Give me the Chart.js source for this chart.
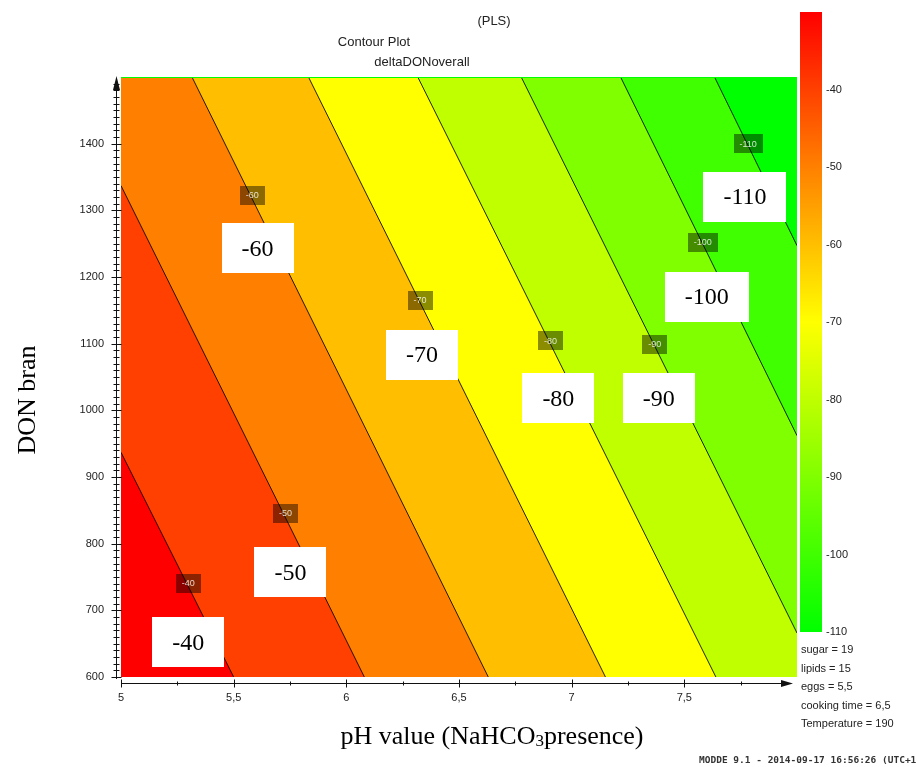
<!DOCTYPE html>
<html>
<head>
<meta charset="utf-8">
<script src="https://cdn.jsdelivr.net/npm/chart.js@4.4.0/dist/chart.umd.min.js"></script>
<style>
  html, body { margin: 0; padding: 0; background: #fff; }
  #wrap { position: relative; width: 917px; height: 767px; overflow: hidden; }
  #plot { position: absolute; left: 0; top: 0; }
  #scale { position: absolute; left: 790px; top: 0; }
</style>
</head>
<body>
<div id="wrap">
  <canvas id="plot" width="917" height="767"></canvas>
  <canvas id="scale" width="127" height="660"></canvas>
</div>
<script>
// contour levels of deltaDONoverall, left (high) to right (low)
const levels = [-40, -50, -60, -70, -80, -90, -100, -110];
// where each contour line enters and leaves the plot (pH, DON bran)
const lineStartX = [5, 5, 5.315, 5.832, 6.317, 6.776, 7.217, 7.634];
const lineStartY = [937, 1337, 1500, 1500, 1500, 1500, 1500, 1500];
const lineEndX = [5.50, 6.08, 6.63, 7.15, 7.64, 8, 8, 8];
const lineEndY = [600, 600, 600, 600, 600, 666, 962, 1247];

// small dark tags sitting on the lines, and the big white labels
const tagX = [5.298, 5.730, 5.583, 6.327, 6.906, 7.369, 7.582, 7.783];
const tagY = [741, 846, 1323, 1165, 1104, 1099, 1252, 1400];
const boxX = [5.298, 5.752, 5.606, 6.336, 6.941, 7.386, 7.600, 7.769];
const boxY = [652, 757, 1243, 1083, 1018, 1018, 1170, 1320];

const xTicks = [5, 5.5, 6, 6.5, 7, 7.5];
const yTicks = [600, 700, 800, 900, 1000, 1100, 1200, 1300, 1400];
const xRange = [5, 8];
const yRange = [600, 1500];

// colour scale
const scaleLevels = [-30, -40, -50, -60, -70, -80, -90, -100, -110];
const scaleTicks = [-40, -50, -60, -70, -80, -90, -100, -110];
const scaleColors = ['#ff0000', '#ff4000', '#ff8000', '#ffbf00', '#ffff00', '#bfff00', '#80ff00', '#40ff00', '#00ff00'];

const factors = ['sugar = 19', 'lipids = 15', 'eggs = 5,5', 'cooking time = 6,5', 'Temperature = 190'];

const sans = "'Liberation Sans', Arial, sans-serif";
const serif = "'Liberation Serif', 'Times New Roman', serif";
const textColor = '#222';

Chart.defaults.font.family = sans;
Chart.defaults.color = textColor;

function comma(v) {
  return String(v).replace('.', ',');
}

// band below the last contour
const plotBackground = {
  id: 'plotBackground',
  beforeDatasetsDraw(chart) {
    const {ctx, chartArea: a} = chart;
    ctx.save();
    ctx.fillStyle = scaleColors[scaleColors.length - 1];
    ctx.fillRect(a.left, a.top, a.right - a.left, a.bottom - a.top);
    ctx.restore();
  }
};

// MODDE style axes: offset lines with arrows and minor ticks
const axisDecor = {
  id: 'axisDecor',
  afterDraw(chart) {
    const {ctx, chartArea: a, scales: {x, y}} = chart;
    const ax = a.left - 4.5, ay = a.bottom + 6.5;
    ctx.save();
    ctx.strokeStyle = '#111';
    ctx.fillStyle = '#111';
    ctx.lineWidth = 1;
    ctx.beginPath();
    ctx.moveTo(ax, a.bottom + 2);
    ctx.lineTo(ax, a.top + 10);
    for (let v = yRange[0]; v < yRange[1] - 5; v += 10) {
      const py = Math.round(y.getPixelForValue(v)) + 0.5;
      const major = v % 100 === 0;
      ctx.moveTo(ax - (major ? 5 : 3), py);
      ctx.lineTo(ax + (major ? 5 : 3), py);
    }
    ctx.moveTo(a.left, ay);
    ctx.lineTo(a.right - 14, ay);
    for (let v = xRange[0]; v < xRange[1] - 0.1; v += 0.25) {
      const px = Math.round(x.getPixelForValue(v)) + 0.5;
      const major = Math.abs(v * 2 - Math.round(v * 2)) < 1e-6;
      ctx.moveTo(px, ay - (major ? 4 : 2));
      ctx.lineTo(px, ay + (major ? 4 : 2));
    }
    ctx.stroke();
    // arrow heads
    ctx.beginPath();
    ctx.moveTo(ax, a.top - 1);
    ctx.lineTo(ax - 3.5, a.top + 13);
    ctx.lineTo(ax + 3.5, a.top + 13);
    ctx.closePath();
    ctx.moveTo(a.right - 4, ay);
    ctx.lineTo(a.right - 16, ay - 3.5);
    ctx.lineTo(a.right - 16, ay + 3.5);
    ctx.closePath();
    ctx.fill();
    ctx.restore();
  }
};

// contour value tags
const contourTags = {
  id: 'contourTags',
  afterDatasetsDraw(chart) {
    const {ctx, scales: {x, y}} = chart;
    ctx.save();
    ctx.textAlign = 'center';
    ctx.textBaseline = 'middle';
    levels.forEach((lv, i) => {
      const label = String(lv);
      let px = x.getPixelForValue(tagX[i]), py = y.getPixelForValue(tagY[i]);
      ctx.font = '9px ' + sans;
      let w = Math.round(ctx.measureText(label).width + 12), h = 19;
      ctx.fillStyle = 'rgba(0,0,0,0.45)';
      ctx.fillRect(Math.round(px - w / 2), Math.round(py - h / 2), w, h);
      ctx.fillStyle = 'rgba(255,255,255,0.8)';
      ctx.fillText(label, px, py + 0.5);

      px = x.getPixelForValue(boxX[i]);
      py = y.getPixelForValue(boxY[i]);
      ctx.font = '24px ' + serif;
      w = Math.round(ctx.measureText(label).width + 40);
      h = 50;
      ctx.fillStyle = '#fff';
      ctx.fillRect(Math.round(px - w / 2), Math.round(py - h / 2), w, h);
      ctx.fillStyle = '#000';
      ctx.fillText(label, px, py + 1);
    });
    ctx.restore();
  }
};

// titles, axis names, factor settings and footer
const pageText = {
  id: 'pageText',
  afterDraw(chart) {
    const {ctx} = chart;
    ctx.save();
    ctx.fillStyle = textColor;
    ctx.textBaseline = 'middle';
    ctx.textAlign = 'center';
    ctx.font = '13px ' + sans;
    ctx.fillText('(PLS)', 494, 21);
    ctx.fillText('Contour Plot', 374, 42);
    ctx.fillText('deltaDONoverall', 422, 62);

    ctx.fillStyle = '#000';
    ctx.font = '26px ' + serif;
    ctx.save();
    ctx.translate(28, 400);
    ctx.rotate(-Math.PI / 2);
    ctx.fillText('DON bran', 0, 0);
    ctx.restore();

    // pH value (NaHCO3presence) with a subscript 3
    const parts = [['pH value (NaHCO', 26, 0], ['3', 17, 5], ['presence)', 26, 0]];
    let total = 0;
    parts.forEach(p => { ctx.font = p[1] + 'px ' + serif; total += ctx.measureText(p[0]).width; });
    let cx = 492 - total / 2;
    ctx.textAlign = 'left';
    parts.forEach(p => {
      ctx.font = p[1] + 'px ' + serif;
      ctx.fillText(p[0], cx, 737 + p[2]);
      cx += ctx.measureText(p[0]).width;
    });

    ctx.fillStyle = textColor;
    ctx.font = '11px ' + sans;
    factors.forEach((f, i) => ctx.fillText(f, 801, 650 + i * 18.5));

    ctx.fillStyle = '#333';
    ctx.font = "bold 9.5px 'DejaVu Sans Mono', monospace";
    ctx.fillText('MODDE 9.1 - 2014-09-17 16:56:26 (UTC+1)', 699, 761);
    ctx.restore();
  }
};

const datasets = levels.map((lv, i) => {
  const pts = [{x: lineStartX[i], y: lineStartY[i]}, {x: lineEndX[i], y: lineEndY[i]}];
  // a line entering through the top edge also bounds everything to its left
  if (lineStartY[i] === yRange[1] && lineStartX[i] > xRange[0]) {
    pts.unshift({x: xRange[0], y: yRange[1]});
  }
  return {
    label: String(lv),
    data: pts,
    borderColor: 'rgba(0,0,0,0.85)',
    borderWidth: 1,
    pointRadius: 0,
    tension: 0,
    fill: 'start',
    backgroundColor: scaleColors[i],
    // keep the stroke along the top edge out of sight
    clip: { left: 0, right: 0, top: -1, bottom: 0 }
  };
});

new Chart(document.getElementById('plot'), {
  type: 'line',
  data: { datasets: datasets },
  options: {
    responsive: false,
    animation: false,
    devicePixelRatio: 1,
    layout: { padding: { left: 0, top: 77, right: 120, bottom: 0 } },
    plugins: {
      legend: { display: false },
      tooltip: { enabled: false },
      filler: { propagate: false }
    },
    scales: {
      x: {
        type: 'linear',
        min: xRange[0],
        max: xRange[1],
        afterBuildTicks: s => { s.ticks = xTicks.map(v => ({ value: v })); },
        afterFit: s => { s.height = 90; },
        grid: { display: false, drawTicks: false },
        border: { display: false },
        ticks: { callback: v => comma(v), padding: 14, maxRotation: 0, font: { size: 11 }, color: textColor }
      },
      y: {
        type: 'linear',
        min: yRange[0],
        max: yRange[1],
        afterBuildTicks: s => { s.ticks = yTicks.map(v => ({ value: v })); },
        afterFit: s => { s.width = 121; },
        grid: { display: false, drawTicks: false },
        border: { display: false },
        ticks: { callback: v => String(v), padding: 17, font: { size: 11 }, color: textColor }
      }
    }
  },
  plugins: [plotBackground, contourTags, axisDecor, pageText]
});

// colour bar
new Chart(document.getElementById('scale'), {
  type: 'bar',
  data: {
    labels: [''],
    datasets: [{
      data: [[scaleLevels[scaleLevels.length - 1], scaleLevels[0]]],
      borderWidth: 0,
      barPercentage: 1,
      categoryPercentage: 1,
      backgroundColor: c => {
        const area = c.chart.chartArea;
        if (!area) return scaleColors[0];
        const ys = c.chart.scales.y;
        const g = c.chart.ctx.createLinearGradient(0, area.top, 0, area.bottom);
        scaleLevels.forEach((v, i) => {
          const t = (ys.getPixelForValue(v) - area.top) / (area.bottom - area.top);
          g.addColorStop(Math.min(1, Math.max(0, t)), scaleColors[i]);
        });
        return g;
      }
    }]
  },
  options: {
    responsive: false,
    animation: false,
    devicePixelRatio: 1,
    layout: { padding: { left: 10, top: 12, right: 0, bottom: 28 } },
    plugins: { legend: { display: false }, tooltip: { enabled: false } },
    scales: {
      x: { display: false },
      y: {
        position: 'right',
        min: scaleLevels[scaleLevels.length - 1],
        max: scaleLevels[0],
        afterBuildTicks: s => { s.ticks = scaleTicks.map(v => ({ value: v })); },
        afterFit: s => { s.width = 95; },
        grid: { display: false, drawTicks: false },
        border: { display: false },
        ticks: { padding: 4, font: { size: 11 }, color: textColor }
      }
    }
  }
});
</script>
</body>
</html>
